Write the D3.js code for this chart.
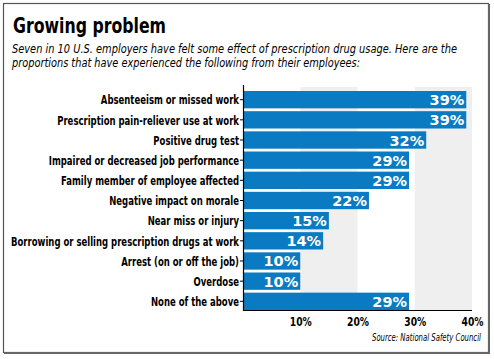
<!DOCTYPE html>
<html>
<head>
<meta charset="utf-8">
<script src="https://cdn.jsdelivr.net/npm/d3@7"></script>
<style>
  body { margin: 0; background: #fff; }
  .cond { font-family: "DejaVu Sans Condensed", "Liberation Sans Narrow", sans-serif; font-stretch: condensed; }
</style>
</head>
<body>
<div id="canvas"></div>
<script>
// Chart data
var categories = [
  "Absenteeism or missed work",
  "Prescription pain-reliever use at work",
  "Positive drug test",
  "Impaired or decreased job performance",
  "Family member of employee affected",
  "Negative impact on morale",
  "Near miss or injury",
  "Borrowing or selling prescription drugs at work",
  "Arrest (on or off the job)",
  "Overdose",
  "None of the above"
];
var values = [39, 39, 32, 29, 29, 22, 15, 14, 10, 10, 29];
var tickValues = [10, 20, 30, 40];

var W = 494, H = 359;
var svg = d3.select("#canvas").append("svg")
  .attr("width", W)
  .attr("height", H);

// squeeze text horizontally so it looks like a condensed face
function squeeze(sel, ratio) {
  sel.each(function () {
    var len = this.getComputedTextLength();
    d3.select(this)
      .attr("textLength", len * ratio)
      .attr("lengthAdjust", "spacingAndGlyphs");
  });
}
function fitTo(sel, width) {
  sel.attr("textLength", width).attr("lengthAdjust", "spacingAndGlyphs");
}

// Frame, a bit heavier on the right and bottom
svg.append("rect")
  .attr("x", 3.5).attr("y", 3.5)
  .attr("width", 485).attr("height", 349)
  .attr("fill", "#fff")
  .attr("stroke", "#555")
  .attr("stroke-width", 1.2);
svg.append("path")
  .attr("d", "M489,4V353H4")
  .attr("fill", "none")
  .attr("stroke", "#666")
  .attr("stroke-width", 2);

// Title and intro
svg.append("text")
  .attr("class", "cond")
  .attr("x", 13).attr("y", 33)
  .style("font-size", "21px")
  .style("font-weight", "bold")
  .text("Growing problem")
  .call(fitTo, 153);

var intro = [
  "Seven in 10 U.S. employers have felt some effect of prescription drug usage. Here are the",
  "proportions that have experienced the following from their employees:"
];
var introWidths = [445, 348];
svg.append("g").selectAll("text")
  .data(intro)
  .enter().append("text")
  .attr("class", "cond")
  .attr("x", 12)
  .attr("y", function (d, i) { return 53 + i * 14; })
  .attr("textLength", function (d, i) { return introWidths[i]; })
  .attr("lengthAdjust", "spacingAndGlyphs")
  .style("font-size", "12.5px")
  .style("font-style", "italic")
  .text(function (d) { return d; });

// Scales
var x = d3.scaleLinear().domain([0, 40]).range([243, 472]);
var y = d3.scaleBand().domain(categories).range([90, 311]).paddingInner(0.14).paddingOuter(0.05);

// Background bands for 10-20 and 30-40
svg.append("g").selectAll("rect")
  .data([[10, 20], [30, 40]])
  .enter().append("rect")
  .attr("x", function (d) { return x(d[0]); })
  .attr("width", function (d) { return x(d[1]) - x(d[0]); })
  .attr("y", 87)
  .attr("height", 310 - 87)
  .attr("fill", "#efefef");

// Bars
svg.append("g").selectAll("rect")
  .data(values)
  .enter().append("rect")
  .attr("x", x(0))
  .attr("y", function (d, i) { return y(categories[i]); })
  .attr("width", function (d) { return x(d) - x(0); })
  .attr("height", y.bandwidth())
  .attr("fill", "#0a7bc2");

// Value labels
svg.append("g").selectAll("text")
  .data(values)
  .enter().append("text")
  .attr("x", function (d) { return x(d) - 2; })
  .attr("y", function (d, i) { return y(categories[i]) + y.bandwidth() / 2 + 5.5; })
  .attr("text-anchor", "end")
  .style("font-family", "'DejaVu Sans', sans-serif")
  .style("font-weight", "bold")
  .style("font-size", "14.5px")
  .style("fill", "#fff")
  .text(function (d) { return d + "%"; });

// Category axis
var yAxis = svg.append("g")
  .attr("transform", "translate(243,0)")
  .call(d3.axisLeft(y).tickSize(3).tickPadding(1));
yAxis.select(".domain").remove();
var catLabels = yAxis.selectAll("text")
  .attr("class", "cond")
  .attr("dy", "0.37em")
  .style("font-size", "13px")
  .style("font-weight", "bold")
  .style("fill", "#000");
// longest label is 228px wide in the original
var longest = d3.max(catLabels.nodes(), function (n) { return n.getComputedTextLength(); });
catLabels.call(squeeze, 228 / longest);

svg.append("line")
  .attr("x1", 243.5).attr("x2", 243.5)
  .attr("y1", 85).attr("y2", 311)
  .attr("stroke", "#000").attr("stroke-width", 1.2);

// Value axis
var xAxis = svg.append("g")
  .attr("transform", "translate(0,310)")
  .call(d3.axisBottom(x).tickValues(tickValues).tickSize(0).tickPadding(7)
    .tickFormat(function (d) { return d + "%"; }));
xAxis.select(".domain").attr("d", "M243,0.5H472").attr("stroke", "#000");
xAxis.selectAll("text")
  .attr("class", "cond")
  .style("font-size", "13px")
  .style("font-weight", "bold")
  .style("fill", "#000")
  .call(fitTo, 22);

// Source
svg.append("text")
  .attr("class", "cond")
  .attr("x", 481).attr("y", 341)
  .attr("text-anchor", "end")
  .style("font-size", "10px")
  .style("font-style", "italic")
  .text("Source: National Safety Council")
  .call(fitTo, 109);
</script>
</body>
</html>
